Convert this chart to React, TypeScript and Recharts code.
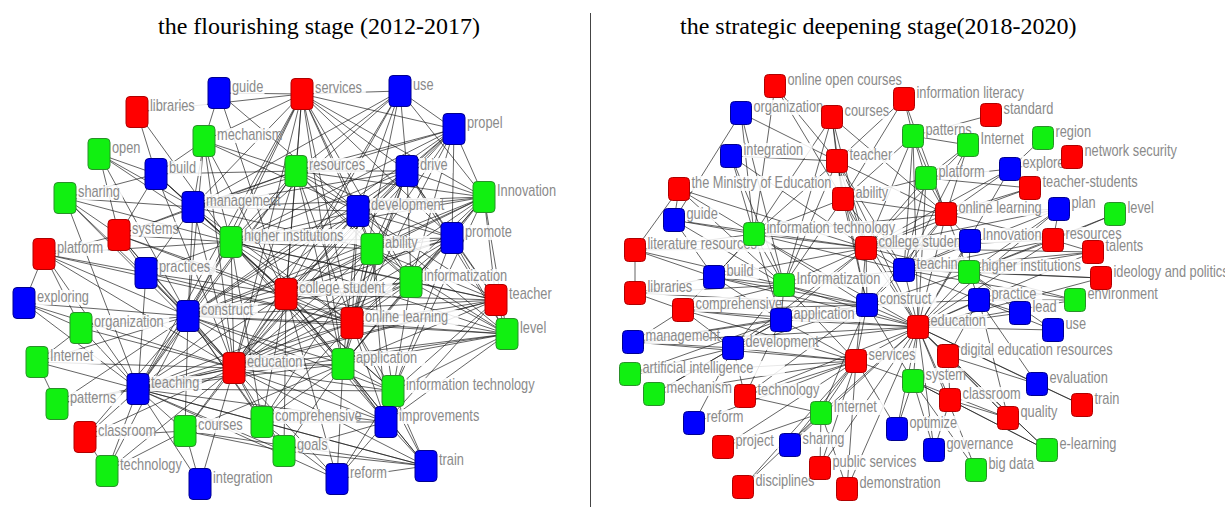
import React from "react";
import { ComposedChart, XAxis, YAxis, Scatter, ReferenceLine } from "recharts";

type Kind = "R" | "G" | "B";
// [label, colour group, x, y, id (only when the label repeats)]
type NodeRow = [string, Kind, number, number, string?];

const LEFT_TITLE = "the flourishing stage (2012-2017)";
const RIGHT_TITLE = "the strategic deepening stage(2018-2020)";

const LEFT_NODES: NodeRow[] = [
  ["guide", "B", 219, 93],
  ["libraries", "R", 137, 112],
  ["services", "R", 302, 94],
  ["use", "B", 400, 91],
  ["propel", "B", 454, 129],
  ["mechanism", "G", 204, 141],
  ["open", "G", 99, 154],
  ["build", "B", 156, 174],
  ["resources", "G", 296, 171],
  ["drive", "B", 407, 171],
  ["sharing", "G", 65, 198],
  ["Innovation", "G", 484, 197],
  ["management", "B", 193, 207],
  ["development", "B", 358, 211],
  ["systems", "R", 119, 235],
  ["higher institutions", "G", 231, 242],
  ["promote", "B", 452, 238],
  ["ability", "G", 372, 249],
  ["platform", "R", 44, 254],
  ["practices", "B", 146, 273],
  ["informatization", "G", 411, 282],
  ["college student", "R", 286, 294],
  ["teacher", "R", 496, 300],
  ["exploring", "B", 24, 303],
  ["construct", "B", 188, 316],
  ["online learning", "R", 352, 323],
  ["organization", "G", 81, 328],
  ["level", "G", 507, 334],
  ["Internet", "G", 37, 362],
  ["application", "G", 343, 364],
  ["education", "R", 234, 368],
  ["teaching", "B", 138, 389],
  ["information technology", "G", 393, 391],
  ["patterns", "G", 57, 404],
  ["comprehensive", "G", 262, 422],
  ["improvements", "B", 386, 422],
  ["courses", "G", 185, 431],
  ["classroom", "R", 85, 437],
  ["goals", "G", 284, 451],
  ["train", "B", 426, 466],
  ["technology", "G", 107, 471],
  ["reform", "B", 337, 479],
  ["integration", "B", 200, 484],
];

const RIGHT_NODES: NodeRow[] = [
  ["online open courses", "R", 775, 86],
  ["information literacy", "R", 904, 99],
  ["organization", "B", 741, 113],
  ["standard", "R", 991, 115],
  ["courses", "R", 832, 117],
  ["patterns", "G", 913, 136],
  ["region", "G", 1043, 138],
  ["Internet", "G", 968, 145],
  ["integration", "B", 731, 156],
  ["network security", "R", 1072, 157],
  ["teacher", "R", 837, 161],
  ["explore", "B", 1010, 169],
  ["platform", "G", 926, 178],
  ["teacher-students", "R", 1030, 188],
  ["the Ministry of Education", "R", 679, 189],
  ["ability", "R", 843, 199],
  ["plan", "B", 1059, 209],
  ["level", "G", 1115, 214],
  ["online learning", "R", 946, 214],
  ["guide", "B", 674, 220],
  ["information technology", "G", 754, 234],
  ["Innovation", "B", 970, 241],
  ["resources", "R", 1053, 240],
  ["college student", "R", 866, 248],
  ["literature resources", "R", 635, 250],
  ["talents", "R", 1093, 252],
  ["teaching", "B", 904, 270],
  ["higher institutions", "G", 969, 272],
  ["ideology and politics", "R", 1101, 278],
  ["build", "B", 714, 277],
  ["Informatization", "G", 784, 285],
  ["libraries", "R", 635, 293],
  ["practice", "B", 979, 300],
  ["environment", "G", 1075, 300],
  ["construct", "B", 867, 305],
  ["comprehensive", "R", 683, 310],
  ["lead", "B", 1020, 313],
  ["application", "B", 781, 320],
  ["education", "R", 918, 327],
  ["use", "B", 1053, 330],
  ["management", "B", 633, 342],
  ["development", "B", 733, 348],
  ["digital education resources", "R", 948, 356],
  ["services", "R", 856, 361],
  ["artificial intelligence", "G", 630, 374],
  ["system", "G", 913, 381],
  ["evaluation", "B", 1037, 384],
  ["mechanism", "G", 654, 394],
  ["technology", "R", 745, 396],
  ["classroom", "R", 950, 400],
  ["train", "R", 1082, 405],
  ["Internet", "G", 821, 413, "Internet (2)"],
  ["quality", "R", 1008, 418],
  ["reform", "B", 694, 423],
  ["optimize", "B", 897, 429],
  ["project", "R", 723, 447],
  ["sharing", "B", 790, 445],
  ["governance", "B", 934, 450],
  ["e-learning", "G", 1047, 450],
  ["public services", "R", 820, 468],
  ["big data", "G", 976, 470],
  ["disciplines", "R", 743, 487],
  ["demonstration", "R", 847, 489],
];

const LEFT_LINKS: [string, string[]][] = [
  ["education", ["construct", "teaching", "college student", "online learning", "higher institutions", "application", "development", "management", "resources", "services", "informatization", "teacher", "level", "information technology", "improvements", "comprehensive", "courses", "classroom", "Internet", "organization", "patterns", "practices", "systems", "platform", "sharing", "exploring", "technology", "integration", "reform", "train", "goals", "ability", "promote", "Innovation", "propel", "drive", "use", "mechanism", "build"]],
  ["construct", ["teaching", "college student", "online learning", "higher institutions", "application", "development", "management", "services", "resources", "informatization", "ability", "platform", "systems", "practices", "organization", "exploring", "Internet", "patterns", "courses", "classroom", "technology", "comprehensive", "teacher", "level", "information technology", "Innovation", "propel", "promote", "drive", "mechanism", "open", "sharing", "goals", "improvements"]],
  ["teaching", ["college student", "online learning", "higher institutions", "application", "development", "informatization", "Internet", "patterns", "organization", "classroom", "technology", "courses", "integration", "comprehensive", "information technology", "improvements", "reform", "train", "goals", "level", "teacher", "resources", "services", "sharing", "platform", "exploring", "practices"]],
  ["college student", ["online learning", "higher institutions", "application", "development", "management", "ability", "informatization", "services", "resources", "Innovation", "promote", "drive", "propel", "use", "teacher", "level", "information technology", "improvements", "comprehensive", "goals", "reform", "train", "practices", "systems", "build", "mechanism", "courses", "guide"]],
  ["online learning", ["higher institutions", "application", "development", "management", "ability", "informatization", "teacher", "level", "information technology", "improvements", "resources", "services", "drive", "use", "propel", "Innovation", "promote", "practices", "platform", "systems", "comprehensive", "train"]],
  ["higher institutions", ["application", "development", "management", "ability", "informatization", "services", "resources", "mechanism", "build", "systems", "practices", "platform", "sharing", "open", "libraries", "Innovation", "promote", "drive", "teacher", "level", "information technology", "improvements", "comprehensive", "use", "propel"]],
  ["application", ["development", "ability", "informatization", "information technology", "improvements", "train", "reform", "goals", "comprehensive", "teacher", "level", "services", "resources", "Innovation", "promote", "courses", "drive"]],
  ["development", ["services", "resources", "drive", "use", "propel", "Innovation", "promote", "ability", "informatization", "management", "mechanism", "teacher", "level", "guide"]],
  ["services", ["resources", "drive", "use", "propel", "Innovation", "management", "mechanism", "ability", "informatization", "libraries", "guide", "promote"]],
  ["management", ["resources", "mechanism", "build", "systems", "practices", "sharing", "open", "ability", "drive", "propel", "Innovation", "use"]],
  ["resources", ["ability", "drive", "use", "informatization", "promote", "mechanism", "build", "systems"]],
  ["drive", ["use", "promote", "ability", "informatization", "teacher", "level"]],
  ["Innovation", ["propel", "drive", "use", "promote", "ability", "informatization", "resources", "information technology", "teacher", "level"]],
  ["propel", ["use", "drive", "resources", "promote", "ability", "informatization"]],
  ["promote", ["ability", "teacher", "level", "information technology"]],
  ["informatization", ["teacher", "level", "ability", "promote", "information technology", "drive"]],
  ["ability", ["information technology", "improvements", "comprehensive"]],
  ["teacher", ["level", "ability", "information technology", "improvements"]],
  ["level", ["information technology", "improvements", "ability"]],
  ["information technology", ["improvements", "train", "reform"]],
  ["improvements", ["train", "reform", "goals", "comprehensive"]],
  ["train", ["goals", "reform", "comprehensive", "courses"]],
  ["courses", ["technology", "integration", "classroom", "goals"]],
  ["build", ["libraries", "open", "sharing", "systems", "mechanism"]],
  ["systems", ["sharing", "platform", "practices", "open"]],
  ["platform", ["exploring", "practices", "organization"]],
  ["organization", ["exploring", "Internet"]],
  ["Internet", ["patterns"]],
  ["classroom", ["technology"]],
  ["guide", ["mechanism"]],
  ["comprehensive", ["goals", "reform"]],
];

const RIGHT_LINKS: [string, string[]][] = [
  ["education", ["college student", "services", "construct", "teaching", "application", "Informatization", "information technology", "online learning", "development", "higher institutions", "practice", "Innovation", "lead", "use", "digital education resources", "system", "classroom", "quality", "evaluation", "train", "e-learning", "governance", "optimize", "big data", "Internet (2)", "technology", "sharing", "public services", "demonstration", "resources", "talents", "ideology and politics", "environment", "comprehensive", "build", "management", "platform", "patterns", "teacher", "ability", "plan", "explore"]],
  ["college student", ["construct", "teaching", "Informatization", "information technology", "online learning", "higher institutions", "Innovation", "ability", "teacher", "courses", "patterns", "platform", "Internet", "explore", "teacher-students", "resources", "plan", "talents", "the Ministry of Education", "integration", "guide", "literature resources", "build", "application", "development", "services"]],
  ["services", ["construct", "application", "Informatization", "development", "technology", "Internet (2)", "sharing", "project", "public services", "disciplines", "demonstration", "system", "optimize", "reform", "mechanism", "artificial intelligence", "comprehensive", "management"]],
  ["construct", ["teaching", "application", "Informatization", "information technology", "development", "higher institutions", "practice", "online learning", "ability", "teacher", "comprehensive", "build", "libraries", "management", "technology", "Internet (2)", "system"]],
  ["teaching", ["Informatization", "information technology", "online learning", "higher institutions", "Innovation", "practice", "platform", "patterns", "ability", "teacher", "resources", "talents", "ideology and politics", "environment", "plan", "Internet"]],
  ["Informatization", ["information technology", "application", "development", "build", "comprehensive", "libraries", "literature resources", "guide", "integration", "the Ministry of Education", "organization", "teacher", "ability", "courses"]],
  ["information technology", ["guide", "the Ministry of Education", "integration", "organization", "literature resources", "build", "teacher", "ability", "online learning", "courses", "online open courses", "comprehensive", "application"]],
  ["online learning", ["patterns", "platform", "Internet", "explore", "teacher-students", "plan", "ability", "teacher", "information literacy", "courses", "higher institutions", "Innovation", "resources"]],
  ["higher institutions", ["Innovation", "practice", "resources", "talents", "ideology and politics", "environment", "lead", "use", "plan", "level"]],
  ["application", ["development", "comprehensive", "build", "management", "artificial intelligence", "mechanism", "technology"]],
  ["development", ["management", "artificial intelligence", "mechanism", "technology", "comprehensive", "reform"]],
  ["build", ["libraries", "literature resources", "guide"]],
  ["comprehensive", ["libraries", "management"]],
  ["ability", ["teacher", "courses", "information literacy", "patterns", "platform", "online open courses"]],
  ["teacher", ["courses", "organization", "integration", "information literacy", "online open courses"]],
  ["patterns", ["information literacy", "Internet", "platform", "standard"]],
  ["platform", ["Internet", "explore", "teacher-students"]],
  ["practice", ["lead", "use", "environment", "digital education resources", "evaluation", "quality"]],
  ["digital education resources", ["evaluation", "quality", "e-learning", "classroom"]],
  ["system", ["classroom", "optimize", "governance", "big data", "e-learning", "quality"]],
  ["classroom", ["e-learning", "quality", "governance"]],
  ["evaluation", ["train"]],
  ["resources", ["level", "talents", "plan"]],
  ["Internet (2)", ["sharing", "public services", "project", "disciplines", "technology", "demonstration"]],
  ["guide", ["organization", "the Ministry of Education"]],
  ["literature resources", ["libraries", "the Ministry of Education"]],
  ["explore", ["region", "network security"]],
];

const FILL: Record<Kind, string> = { R: "#ff0000", G: "#11f011", B: "#0000ff" };
const BORDER: Record<Kind, string> = { R: "#b00000", G: "#2a8f2a", B: "#000090" };

interface Pt {
  id: string;
  label: string;
  kind: Kind;
  x: number;
  y: number;
  panel: "left" | "right";
}

const toPoints = (rows: NodeRow[], panel: "left" | "right"): Pt[] =>
  rows.map(([label, kind, x, y, id]) => ({ id: id ?? label, label, kind, x, y, panel }));

const leftPts = toPoints(LEFT_NODES, "left");
const rightPts = toPoints(RIGHT_NODES, "right");
const allPts = [...leftPts, ...rightPts];

function buildEdges(pts: Pt[], links: [string, string[]][]) {
  const byId = new Map(pts.map((p) => [p.id, p]));
  const seen = new Set<string>();
  const out: { a: Pt; b: Pt; key: string }[] = [];
  links.forEach(([src, targets]) => {
    targets.forEach((t) => {
      const a = byId.get(src);
      const b = byId.get(t);
      if (!a || !b) return;
      const key = [a.panel, ...[a.id, b.id].sort()].join("|");
      if (seen.has(key)) return;
      seen.add(key);
      out.push({ a, b, key });
    });
  });
  return out;
}

const edges = [...buildEdges(leftPts, LEFT_LINKS), ...buildEdges(rightPts, RIGHT_LINKS)];

const nodeSize = (p: Pt) => (p.panel === "left" ? { w: 22, h: 31 } : { w: 21, h: 23 });

const LabelShape = (props: any) => {
  const { cx, cy, payload } = props;
  const p = payload as Pt;
  const { w } = nodeSize(p);
  const x = cx + w / 2 + 2;
  const y = cy - 1;
  const textW = p.label.length * 6.1 + 3;
  return (
    <g>
      <rect x={x - 1} y={y - 12} width={textW} height={15} fill="#fff" fillOpacity={0.85} />
      <text
        transform={`translate(${x},${y}) scale(0.8,1)`}
        fontFamily="'Liberation Sans', Arial, sans-serif"
        fontSize={16}
        fill="#8a8a8a"
      >
        {p.label}
      </text>
    </g>
  );
};

const NodeShape = (props: any) => {
  const { cx, cy, payload } = props;
  const p = payload as Pt;
  const { w, h } = nodeSize(p);
  return (
    <rect
      x={cx - w / 2}
      y={cy - h / 2}
      width={w}
      height={h}
      rx={4}
      ry={4}
      fill={FILL[p.kind]}
      stroke={BORDER[p.kind]}
      strokeWidth={1}
    />
  );
};

const titleStyle: React.CSSProperties = {
  position: "absolute",
  top: 14,
  fontFamily: "'Liberation Serif', 'Times New Roman', serif",
  fontSize: 24,
  lineHeight: "24px",
  whiteSpace: "nowrap",
  color: "#000",
};

export default function App() {
  return (
    <div style={{ position: "absolute", left: 0, top: 0, width: 1225, height: 507, background: "#fff" }}>
      <ComposedChart width={1225} height={507} margin={{ top: 0, right: 0, bottom: 0, left: 0 }}>
        <XAxis type="number" dataKey="x" domain={[0, 1225]} hide />
        <YAxis type="number" dataKey="y" domain={[0, 507]} reversed hide />
        {edges.map((e) => (
          <ReferenceLine
            key={e.key}
            segment={[
              { x: e.a.x, y: e.a.y },
              { x: e.b.x, y: e.b.y },
            ]}
            stroke="#1a1a1a"
            strokeOpacity={0.75}
            strokeWidth={0.9}
            ifOverflow="visible"
          />
        ))}
        <Scatter data={allPts} dataKey="y" shape={LabelShape} isAnimationActive={false} />
        <Scatter data={allPts} dataKey="y" shape={NodeShape} isAnimationActive={false} />
      </ComposedChart>
      <div style={{ ...titleStyle, left: 158 }}>{LEFT_TITLE}</div>
      <div style={{ ...titleStyle, left: 680 }}>{RIGHT_TITLE}</div>
      <div style={{ position: "absolute", left: 590, top: 13, width: 1, height: 494, background: "#444" }} />
    </div>
  );
}
